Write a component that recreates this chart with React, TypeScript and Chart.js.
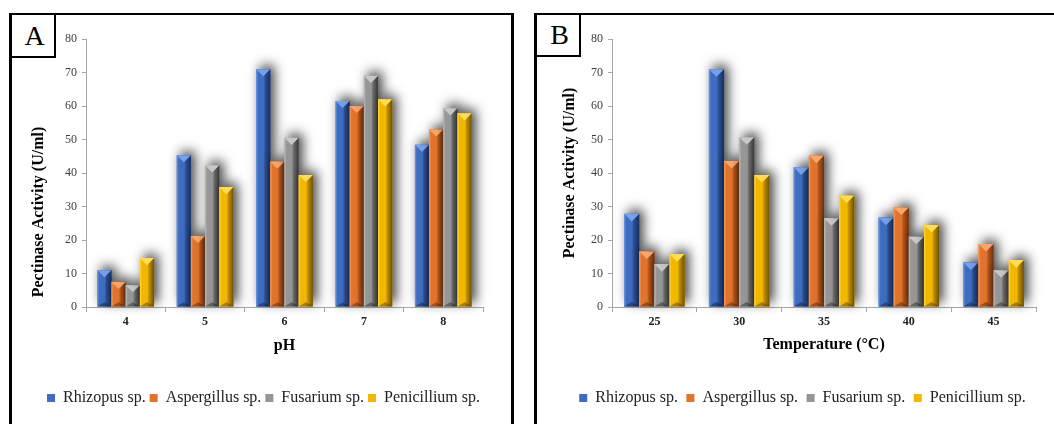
import { useEffect, useRef } from 'react';
import { Chart, registerables } from 'chart.js';

Chart.register(...registerables);

const FONT = "'Liberation Serif', 'Times New Roman', serif";
const AXIS = '#a6a6a6';

// ---- data ----
const seriesNames = ['Rhizopus sp.', 'Aspergillus sp.', 'Fusarium sp.', 'Penicillium sp.'];

const phLabels = ['4', '5', '6', '7', '8'];
const rhizopusPH = [11, 45.3, 71, 61.5, 48.4];
const aspergillusPH = [7.5, 21.2, 43.4, 60, 53];
const fusariumPH = [6.5, 42.3, 50.5, 69, 59.3];
const penicilliumPH = [14.6, 35.8, 39.4, 62, 57.8];

const tempLabels = ['25', '30', '35', '40', '45'];
const rhizopusT = [27.8, 71, 41.7, 26.7, 13.3];
const aspergillusT = [16.6, 43.6, 45.2, 29.7, 18.8];
const fusariumT = [12.8, 50.7, 26.5, 21, 11];
const penicilliumT = [15.8, 39.4, 33.3, 24.5, 14];

const yTicksMin = 0;
const yTicksMax = 80;
const yTicksStep = 10;

// ---- styles ----
const palettes = [
  { light: '#6f9be4', base: '#3e6cc0', mid: '#2a4f94', dark: '#182f5e', top: '#76a0ea', bottom: 'rgba(15,25,55,0.45)' },
  { light: '#f59f62', base: '#e2732c', mid: '#b4561b', dark: '#6a310f', top: '#f8a56b', bottom: 'rgba(70,30,5,0.45)' },
  { light: '#bdbdbd', base: '#969696', mid: '#6c6c6c', dark: '#383838', top: '#c8c8c8', bottom: 'rgba(30,30,30,0.45)' },
  { light: '#ffd650', base: '#f2b800', mid: '#c29000', dark: '#6c5000', top: '#ffdc55', bottom: 'rgba(70,50,0,0.45)' },
];

const bevelPlugin = {
  id: 'bevelBars',
  beforeDatasetsDraw(chart: any) {
    const ctx: CanvasRenderingContext2D = chart.ctx;
    chart.data.datasets.forEach((_ds: any, di: number) => {
      const meta = chart.getDatasetMeta(di);
      const pal = palettes[di % palettes.length];
      meta.data.forEach((el: any) => {
        const { x, y, base, width } = el.getProps(['x', 'y', 'base', 'width'], true);
        const L = x - width / 2;
        const R = x + width / 2;
        const T = Math.min(y, base);
        const B = Math.max(y, base);
        const h = B - T;
        const b = Math.min(width / 2, h / 2);
        // shadow
        ctx.save();
        ctx.shadowColor = 'rgba(0,0,0,0.75)';
        ctx.shadowBlur = 12;
        ctx.shadowOffsetX = 4;
        ctx.shadowOffsetY = -4;
        ctx.fillStyle = pal.base;
        ctx.fillRect(L, T, width, h);
        ctx.restore();
        // body
        const g = ctx.createLinearGradient(L, 0, R, 0);
        g.addColorStop(0, pal.light);
        g.addColorStop(0.14, pal.base);
        g.addColorStop(0.52, pal.base);
        g.addColorStop(0.64, pal.mid);
        g.addColorStop(1, pal.dark);
        ctx.fillStyle = g;
        ctx.fillRect(L, T, width, h);
        // top facet
        ctx.beginPath();
        ctx.moveTo(L, T);
        ctx.lineTo(R, T);
        ctx.lineTo(x, T + b);
        ctx.closePath();
        ctx.fillStyle = pal.top;
        ctx.fill();
        // bottom facet
        ctx.beginPath();
        ctx.moveTo(L, B);
        ctx.lineTo(R, B);
        ctx.lineTo(x, B - b * 0.6);
        ctx.closePath();
        ctx.fillStyle = pal.bottom;
        ctx.fill();
      });
    });
    return false;
  },
};

const sideTitlePlugin = {
  id: 'sideTitle',
  afterDraw(chart: any, _args: any, opts: any) {
    if (!opts || !opts.text) return;
    const ctx: CanvasRenderingContext2D = chart.ctx;
    ctx.save();
    ctx.translate(opts.x, opts.y);
    ctx.rotate(-Math.PI / 2);
    ctx.font = `bold 16px ${FONT}`;
    ctx.fillStyle = '#000';
    ctx.textAlign = 'center';
    ctx.textBaseline = 'middle';
    ctx.fillText(opts.text, 0, 0);
    ctx.restore();
  },
};

interface PanelCfg {
  labels: string[];
  series: number[][];
  xTitle: string;
  yWidth: number;
  rightWidth: number;
  legendPadding: number;
  xHeight: number;
  xTitlePad: number;
  nativeYTitle: boolean;
  sideTitle: any;
}

function makeConfig(p: PanelCfg): any {
  const yTitleText = 'Pectinase Activity (U/ml)';
  return {
    type: 'bar',
    data: {
      labels: p.labels,
      datasets: p.series.map((vals, i) => ({
        label: seriesNames[i],
        data: vals,
        backgroundColor: palettes[i].base,
        borderWidth: 0,
        categoryPercentage: 0.715,
        barPercentage: 1.0,
      })),
    },
    options: {
      animation: false,
      responsive: false,
      devicePixelRatio: 1,
      layout: { padding: { top: 39, bottom: 8, left: 0, right: 0 } },
      scales: {
        x: {
          grid: { display: true, drawOnChartArea: false, drawTicks: true, tickLength: 5, color: AXIS, offset: true },
          border: { display: true, color: AXIS },
          ticks: { font: { family: FONT, size: 12, weight: 'bold' }, color: '#222', padding: 3 },
          title: {
            display: true,
            text: p.xTitle,
            color: '#000',
            font: { family: FONT, size: 16, weight: 'bold' },
            padding: { top: 0, bottom: p.xTitlePad },
          },
          afterFit: (s: any) => { s.height = p.xHeight; },
        },
        y: {
          min: yTicksMin,
          max: yTicksMax,
          ticks: { stepSize: yTicksStep, font: { family: FONT, size: 12 }, color: '#404040', padding: 5 },
          grid: { display: true, drawOnChartArea: false, drawTicks: true, tickLength: 4, color: AXIS },
          border: { display: true, color: AXIS },
          title: {
            display: p.nativeYTitle,
            text: yTitleText,
            color: '#000',
            font: { family: FONT, size: 16, weight: 'bold' },
            padding: { top: 9.4, bottom: 0 },
          },
          afterFit: (s: any) => { s.width = p.yWidth; },
        },
        yR: {
          type: 'linear',
          position: 'right',
          display: true,
          grid: { display: false },
          border: { display: false },
          ticks: { display: false },
          afterFit: (s: any) => { s.width = p.rightWidth; },
        },
      },
      plugins: {
        legend: {
          position: 'bottom',
          labels: {
            boxWidth: 8,
            boxHeight: 8,
            padding: p.legendPadding,
            color: '#222',
            font: { family: FONT, size: 16 },
          },
        },
        tooltip: { enabled: false },
        sideTitle: p.sideTitle,
      },
    },
    plugins: [bevelPlugin, sideTitlePlugin],
  };
}

export default function App() {
  const refA = useRef<HTMLCanvasElement>(null);
  const refB = useRef<HTMLCanvasElement>(null);

  useEffect(() => {
    const a = new Chart(refA.current as HTMLCanvasElement, makeConfig({
      labels: phLabels,
      series: [rhizopusPH, aspergillusPH, fusariumPH, penicilliumPH],
      xTitle: 'pH',
      yWidth: 86,
      rightWidth: 44,
      legendPadding: 4,
      xHeight: 79,
      xTitlePad: 31,
      nativeYTitle: false,
      sideTitle: { text: 'Pectinase Activity (U/ml)', x: 39, y: 212 },
    }));
    const b = new Chart(refB.current as HTMLCanvasElement, makeConfig({
      labels: tempLabels,
      series: [rhizopusT, aspergillusT, fusariumT, penicilliumT],
      xTitle: 'Temperature (\u00B0C)',
      yWidth: 61,
      rightWidth: 18,
      legendPadding: 8.5,
      xHeight: 74.5,
      xTitlePad: 27,
      nativeYTitle: true,
      sideTitle: { text: '' },
    }));
    return () => { a.destroy(); b.destroy(); };
  }, []);

  const frame = (left: number, top: number, width: number, right: boolean): any => ({
    position: 'absolute', left, top, width, height: 440, boxSizing: 'border-box',
    borderLeft: '3px solid #000', borderTop: '2px solid #000',
    borderRight: right ? '3px solid #000' : 'none', pointerEvents: 'none',
  });
  const labelBox = (left: number, top: number, width: number, height: number): any => ({
    position: 'absolute', left, top, width, height, boxSizing: 'border-box',
    border: '2px solid #000', borderLeftWidth: 3, background: '#fff',
    display: 'flex', alignItems: 'center', justifyContent: 'center',
    fontFamily: FONT, fontSize: 28, color: '#000', paddingLeft: 3, lineHeight: 1,
  });

  return (
    <div style={{ position: 'fixed', left: 0, top: 0, width: 1054, height: 424, overflow: 'hidden', background: '#fff' }}>
      <canvas ref={refA} width={527} height={424} style={{ position: 'absolute', left: 0, top: 0, display: 'block' }} />
      <canvas ref={refB} width={503} height={424} style={{ position: 'absolute', left: 551, top: 0, display: 'block' }} />
      <div style={frame(9, 13, 505, true)} />
      <div style={frame(534, 13, 540, false)} />
      <div style={labelBox(9, 13, 47, 45)}>A</div>
      <div style={labelBox(534, 13, 47, 44)}>B</div>
    </div>
  );
}
